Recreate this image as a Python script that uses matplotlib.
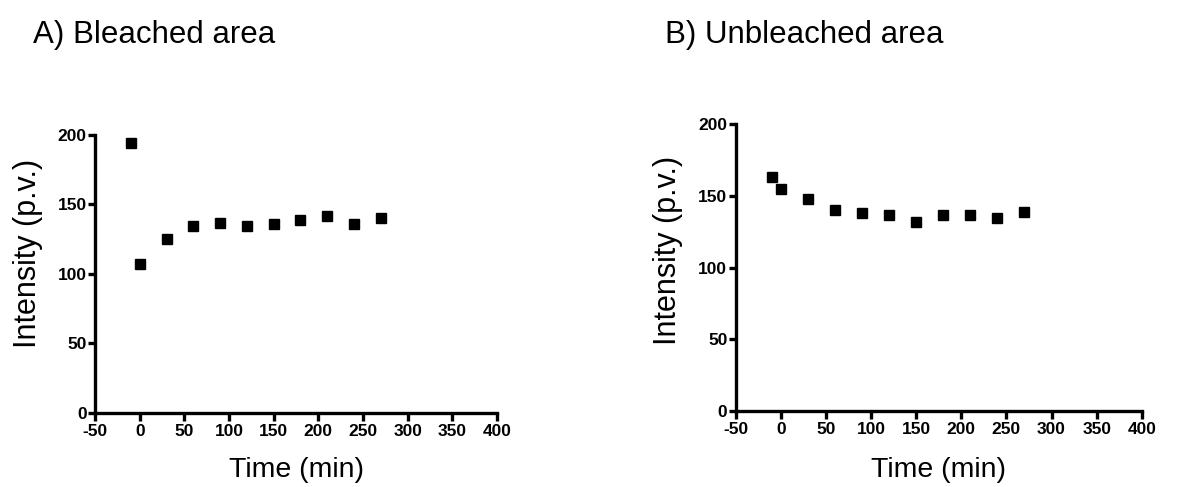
import matplotlib

matplotlib.use("Agg")
import matplotlib.pyplot as plt

plt.rcParams["font.family"] = ["Liberation Sans", "DejaVu Sans"]
plt.rcParams["axes.unicode_minus"] = False

time_min = [-10, 0, 30, 60, 90, 120, 150, 180, 210, 240, 270]
bleached = [194, 107, 125, 134.5, 137, 134.5, 136, 138.5, 141.5, 136, 140]
unbleached = [163.5, 154.5, 147.5, 140.5, 138, 136.5, 132, 136.5, 136.5, 134.5, 138.5]

x_ticks = [-50, 0, 50, 100, 150, 200, 250, 300, 350, 400]
y_ticks = [0, 50, 100, 150, 200]

fig = plt.figure(figsize=(11.91, 4.87), dpi=100)
ax_a = fig.add_axes([0.0798, 0.1526, 0.3375, 0.570])
ax_b = fig.add_axes([0.6177, 0.156, 0.341, 0.589])

# (axes, values, y-label centre in axes fraction)
panels = ((ax_a, bleached, 0.574), (ax_b, unbleached, 0.559))

for ax, values, ylab_y in panels:
    ax.plot(time_min, values, "s", color="black", markersize=7.2, clip_on=False)
    ax.set_xlim(-50, 400)
    ax.set_ylim(0, 200)
    ax.set_xticks(x_ticks)
    ax.set_yticks(y_ticks)
    for side in ("top", "right"):
        ax.spines[side].set_visible(False)
    for side in ("left", "bottom"):
        ax.spines[side].set_linewidth(2.4)
    ax.tick_params(axis="x", direction="out", length=6, width=2.4, pad=2)
    ax.tick_params(axis="y", direction="out", length=5, width=2.4, pad=1)
    for lab in ax.get_xticklabels() + ax.get_yticklabels():
        lab.set_fontweight("bold")
        lab.set_fontsize(12.5)
    ax.set_xlabel("Time (min)", fontsize=20.5)
    ax.set_ylabel("Intensity (p.v.)", fontsize=22)
    ax.xaxis.set_label_coords(0.5, -0.16)
    ax.yaxis.set_label_coords(-0.129, ylab_y)

fig.text(0.0277, 0.911, "A) Bleached area", fontsize=22.5, va="baseline")
fig.text(0.5584, 0.911, "B) Unbleached area", fontsize=22.5, va="baseline")

fig.savefig("out.png", dpi=100)
plt.close(fig)
